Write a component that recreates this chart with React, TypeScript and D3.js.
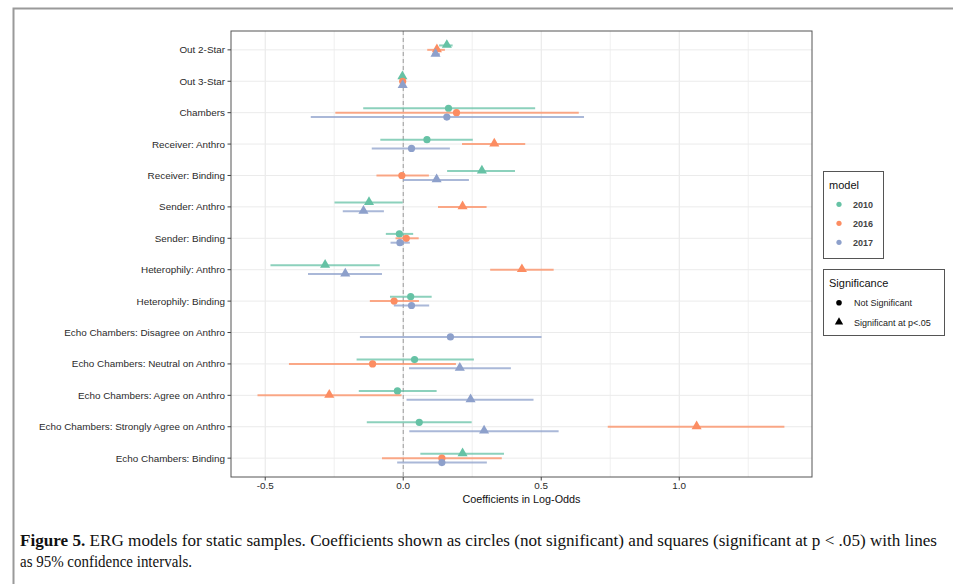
import React from "react";
import * as d3 from "d3";

const categories = [
  "Out 2-Star",
  "Out 3-Star",
  "Chambers",
  "Receiver: Anthro",
  "Receiver: Binding",
  "Sender: Anthro",
  "Sender: Binding",
  "Heterophily: Anthro",
  "Heterophily: Binding",
  "Echo Chambers: Disagree on Anthro",
  "Echo Chambers: Neutral on Anthro",
  "Echo Chambers: Agree on Anthro",
  "Echo Chambers: Strongly Agree on Anthro",
  "Echo Chambers: Binding",
];

const models = ["2010", "2016", "2017"];
const modelColors = ["#66C2A5", "#FC8D62", "#8DA0CB"];

const est2010 = [0.158, -0.003, 0.164, 0.086, 0.285, -0.124, -0.014, -0.283, 0.027, null, 0.041, -0.021, 0.058, 0.215];
const lo2010 = [0.13, -0.008, -0.145, -0.083, 0.159, -0.249, -0.063, -0.481, -0.048, null, -0.169, -0.161, -0.132, 0.062];
const hi2010 = [0.179, 0.002, 0.478, 0.252, 0.405, -0.002, 0.036, -0.085, 0.103, null, 0.256, 0.121, 0.248, 0.365];
const sig2010 = [1, 1, 0, 0, 1, 1, 0, 1, 0, null, 0, 0, 0, 1];

const est2016 = [0.122, -0.002, 0.193, 0.33, -0.005, 0.215, 0.011, 0.43, -0.033, null, -0.111, -0.268, 1.063, 0.14];
const lo2016 = [0.087, -0.006, -0.246, 0.213, -0.097, 0.126, -0.028, 0.315, -0.121, null, -0.414, -0.528, 0.741, -0.077];
const hi2016 = [0.151, 0.002, 0.636, 0.442, 0.093, 0.302, 0.056, 0.545, 0.057, null, 0.191, -0.006, 1.381, 0.357];
const sig2016 = [1, 0, 0, 1, 0, 1, 0, 1, 0, null, 0, 1, 1, 0];

const est2017 = [0.117, -0.002, 0.158, 0.03, 0.121, -0.144, -0.012, -0.21, 0.03, 0.171, 0.205, 0.244, 0.293, 0.14];
const lo2017 = [0.105, -0.005, -0.335, -0.114, 0.0, -0.219, -0.046, -0.345, -0.034, -0.157, 0.021, 0.012, 0.022, -0.022];
const hi2017 = [0.133, 0.001, 0.655, 0.169, 0.238, -0.07, 0.024, -0.077, 0.094, 0.501, 0.39, 0.472, 0.563, 0.303];
const sig2017 = [1, 1, 0, 0, 1, 1, 0, 1, 0, 0, 1, 1, 1, 0];

const majorTicks = [-0.5, 0, 0.5, 1.0];
const minorTicks = [-0.25, 0.25, 0.75, 1.25];
const tickLabels = ["-0.5", "0.0", "0.5", "1.0"];
const xDomain = [-0.624, 1.481];

const significanceLabels = ["Not Significant", "Significant at p<.05"];
const captionBold = "Figure 5.";
const captionLine1 =
  " ERG models for static samples. Coefficients shown as circles (not significant) and squares (significant at p < .05) with lines";
const captionLine2 = "as 95% confidence intervals.";

const series = [
  { est: est2010, lo: lo2010, hi: hi2010, sig: sig2010 },
  { est: est2016, lo: lo2016, hi: hi2016, sig: sig2016 },
  { est: est2017, lo: lo2017, hi: hi2017, sig: sig2017 },
];

const P = { left: 231, right: 812, top: 31, bottom: 477 };

const triPath = d3.symbol().type(d3.symbolTriangle).size(44)();
const triPathSmall = d3.symbol().type(d3.symbolTriangle).size(30)();

export default function App() {
  const x = d3.scaleLinear().domain(xDomain).range([P.left, P.right]);
  const y = d3.scalePoint<string>().domain(categories).range([P.top, P.bottom]).padding(0.6);
  const step = y.step();
  const dodge = step * 0.14;
  const font = "'Liberation Sans', Arial, sans-serif";
  const serif = "'Liberation Serif', 'Times New Roman', serif";

  return (
    <svg
      width={953}
      height={584}
      style={{ position: "fixed", left: 0, top: 0, background: "#fff" }}
      fontFamily={font}
    >
      <rect x={0} y={0} width={953} height={584} fill="#fff" />
      {/* outer frame */}
      <path d="M13.5,584 L13.5,8.5 L953,8.5" fill="none" stroke="#9a9a9a" strokeWidth={2} />

      {/* panel grid */}
      {minorTicks.map((t) => (
        <line key={"mn" + t} x1={x(t)} x2={x(t)} y1={P.top} y2={P.bottom} stroke="#EBEBEB" strokeWidth={0.8} />
      ))}
      {majorTicks.map((t) => (
        <line key={"mj" + t} x1={x(t)} x2={x(t)} y1={P.top} y2={P.bottom} stroke="#E6E6E6" strokeWidth={1} />
      ))}
      {categories.map((c) => (
        <line key={"hg" + c} x1={P.left} x2={P.right} y1={y(c)} y2={y(c)} stroke="#EBEBEB" strokeWidth={1} />
      ))}
      <line x1={x(0)} x2={x(0)} y1={P.top} y2={P.bottom} stroke="#9a9a9a" strokeWidth={1} strokeDasharray="4,3" />

      {/* data */}
      {series.map((s, mi) =>
        categories.map((c, ci) => {
          const e = s.est[ci];
          if (e === null || e === undefined) return null;
          const yy = (y(c) as number) + (mi - 1) * dodge;
          const col = modelColors[mi];
          return (
            <g key={mi + "-" + ci}>
              <line
                x1={x(s.lo[ci] as number)}
                x2={x(s.hi[ci] as number)}
                y1={yy}
                y2={yy}
                stroke={col}
                strokeOpacity={0.75}
                strokeWidth={2}
              />
              {s.sig[ci] ? (
                <path d={triPath} transform={`translate(${x(e)},${yy - 0.5})`} fill={col} />
              ) : (
                <circle cx={x(e)} cy={yy} r={3.6} fill={col} />
              )}
            </g>
          );
        })
      )}

      {/* panel border */}
      <rect
        x={P.left}
        y={P.top}
        width={P.right - P.left}
        height={P.bottom - P.top}
        fill="none"
        stroke="#555"
        strokeWidth={1}
      />

      {/* y axis */}
      {categories.map((c) => (
        <g key={"yl" + c}>
          <line x1={P.left - 3.5} x2={P.left} y1={y(c)} y2={y(c)} stroke="#444" strokeWidth={1} />
          <text
            x={P.left - 6}
            y={(y(c) as number) + 3.5}
            textAnchor="end"
            fontSize={9.9}
            fill="#2a2a2a"
          >
            {c}
          </text>
        </g>
      ))}

      {/* x axis */}
      {majorTicks.map((t, i) => (
        <g key={"xt" + t}>
          <line x1={x(t)} x2={x(t)} y1={P.bottom} y2={P.bottom + 3.5} stroke="#444" strokeWidth={1} />
          <text x={x(t)} y={P.bottom + 12} textAnchor="middle" fontSize={9.9} fill="#2a2a2a">
            {tickLabels[i]}
          </text>
        </g>
      ))}
      <text x={(P.left + P.right) / 2} y={503} textAnchor="middle" fontSize={10.8} fill="#111">
        Coefficients in Log-Odds
      </text>

      {/* legend: model */}
      <rect x={823.5} y={171.5} width={60} height={87} fill="#fff" stroke="#555" strokeWidth={1} />
      <text x={829} y={189} fontSize={11} fill="#111">
        model
      </text>
      {models.map((m, i) => (
        <g key={"lm" + m}>
          <circle cx={839} cy={204.3 + i * 19} r={2.6} fill={modelColors[i]} />
          <text x={853} y={207.6 + i * 19} fontSize={9} fontWeight="bold" fill="#444">
            {m}
          </text>
        </g>
      ))}

      {/* legend: significance */}
      <rect x={823.5} y={269.5} width={121} height={66} fill="#fff" stroke="#555" strokeWidth={1} />
      <text x={829} y={287} fontSize={11} fill="#111">
        Significance
      </text>
      <circle cx={839} cy={302.7} r={2.8} fill="#000" />
      <text x={854} y={306} fontSize={9} fill="#222">
        {significanceLabels[0]}
      </text>
      <path d={triPathSmall} transform={`translate(839,${322})`} fill="#000" />
      <text x={854} y={325.6} fontSize={9} fill="#222">
        {significanceLabels[1]}
      </text>

      {/* caption */}
      <text
        x={20}
        y={546}
        fontSize={16.5}
        fontFamily={serif}
        fill="#111"
        textLength={917}
        lengthAdjust="spacingAndGlyphs"
      >
        <tspan fontWeight="bold">{captionBold}</tspan>
        <tspan>{captionLine1}</tspan>
      </text>
      <text
        x={20}
        y={567}
        fontSize={16.5}
        fontFamily={serif}
        fill="#111"
        textLength={172}
        lengthAdjust="spacingAndGlyphs"
      >
        {captionLine2}
      </text>
    </svg>
  );
}
